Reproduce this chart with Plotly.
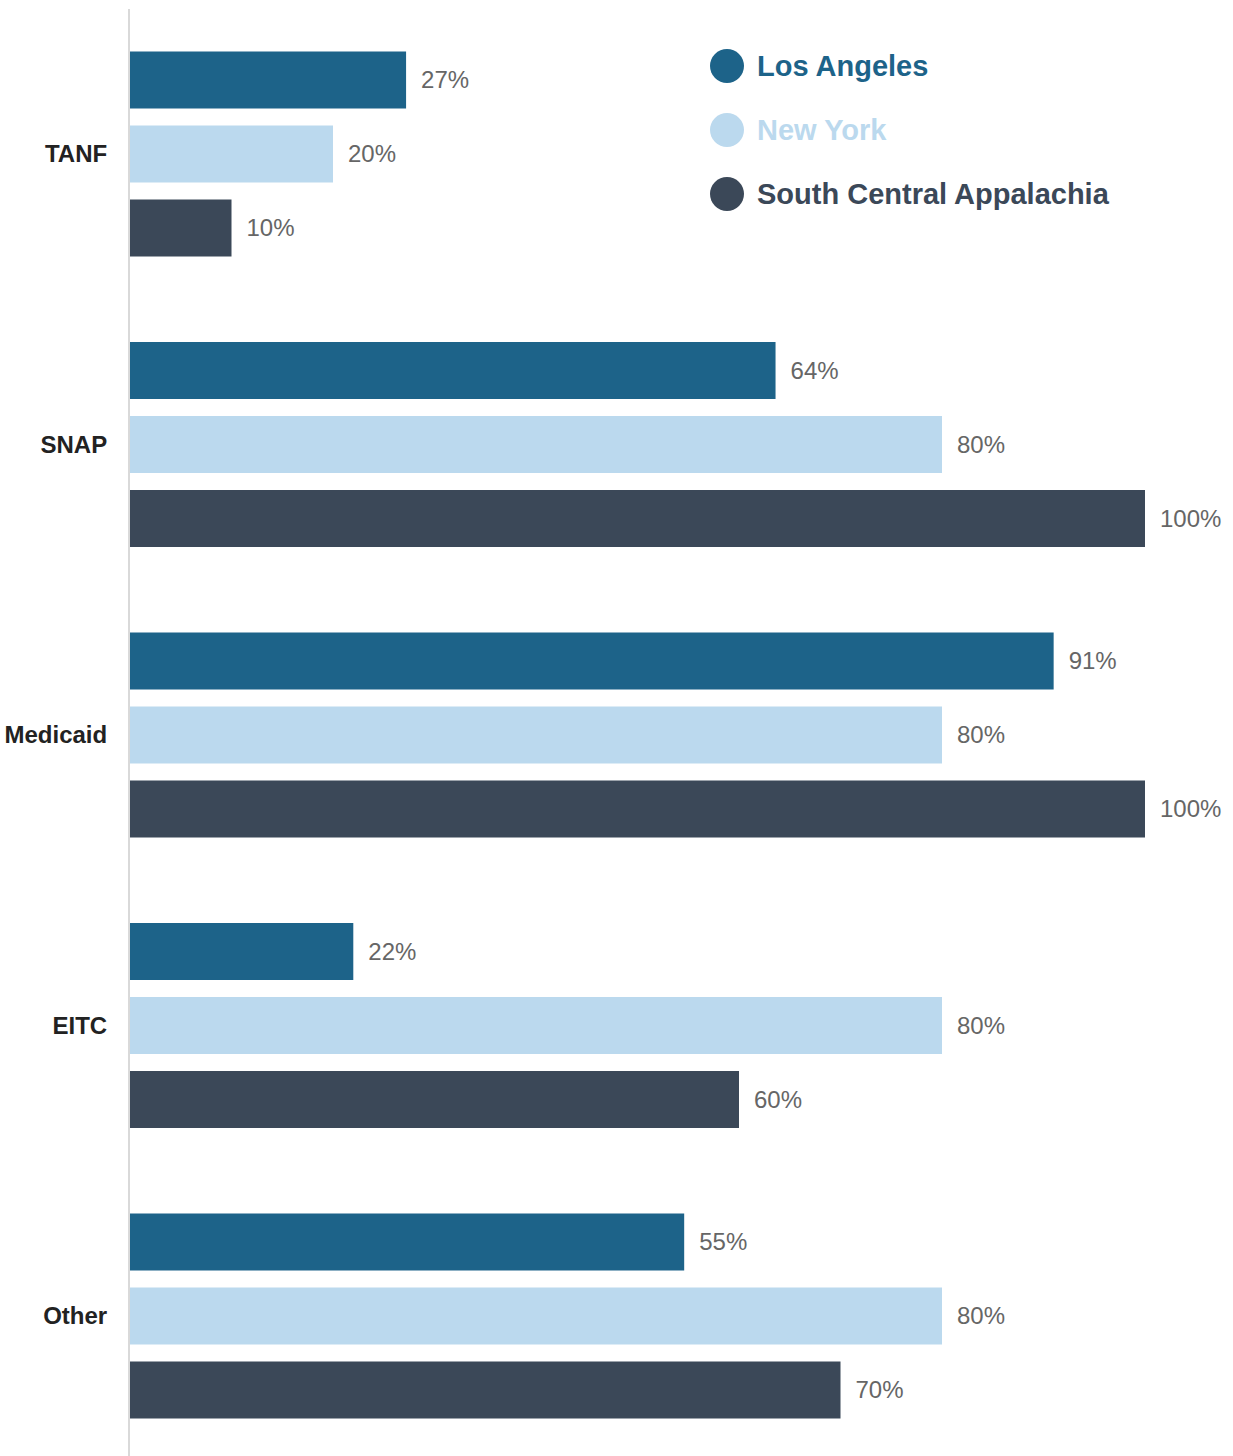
import plotly.graph_objects as go

categories = ["TANF", "SNAP", "Medicaid", "EITC", "Other"]
series_names = ["Los Angeles", "New York", "South Central Appalachia"]
series_colors = ["#1d6389", "#bbd9ee", "#3b4858"]
los_angeles = [27.2, 63.6, 91.0, 22.0, 54.6]
new_york = [20, 80, 80, 80, 80]
south_central_appalachia = [10, 100, 100, 60, 70]
series_values = [los_angeles, new_york, south_central_appalachia]

W, H = 1233, 1456
ML, MT, MR, MB = 130, 9, 0, 0
FONT = "Liberation Sans, Arial, sans-serif"

fig = go.Figure()
for name, color, vals in zip(series_names, series_colors, series_values):
    fig.add_trace(go.Bar(
        y=categories, x=vals, name=name, orientation="h",
        marker=dict(color=color, line=dict(width=0)),
        text=[f"{round(v)}%" for v in vals],
        texttemplate="\u2002%{text}",
        textposition="outside", constraintext="none", cliponaxis=False,
        textfont=dict(family=FONT, size=24, color="#666666"),
        showlegend=False, hoverinfo="skip",
    ))

def px_x(px):
    return (px - ML) / (W - ML - MR)

def px_y(py):
    return (H - MB - py) / (H - MT - MB)

shapes = []
annotations = []
for i, (name, color) in enumerate(zip(series_names, series_colors)):
    cy = 66 + 64 * i
    shapes.append(dict(type="circle", xref="paper", yref="paper",
                       xsizemode="pixel", ysizemode="pixel",
                       xanchor=px_x(727), yanchor=px_y(cy),
                       x0=-17, x1=17, y0=-17, y1=17,
                       fillcolor=color, line=dict(width=0)))
    annotations.append(dict(xref="paper", yref="paper", x=px_x(755), y=px_y(cy),
                            xanchor="left", yanchor="middle", showarrow=False,
                            text=f"<b>{name}</b>",
                            font=dict(family=FONT, size=29, color=color)))

fig.update_layout(
    width=W, height=H,
    margin=dict(l=ML, r=MR, t=MT, b=MB, pad=0, autoexpand=False),
    paper_bgcolor="white", plot_bgcolor="white",
    barmode="group", bargap=0.2358, bargroupgap=0.23,
    font=dict(family=FONT),
    shapes=shapes, annotations=annotations,
    xaxis=dict(range=[0, (W - ML - MR) / 10.15], showgrid=False, zeroline=False,
               showticklabels=False, showline=False, ticks="", automargin=False),
    yaxis=dict(type="category", categoryorder="array", categoryarray=categories,
               range=[4.482, -0.499], showgrid=False, zeroline=False,
               showline=True, linecolor="#d9d9d9", linewidth=2, ticks="",
               ticklabelstandoff=16, automargin=False,
               tickfont=dict(family=FONT, size=24, color="#222222"),
               tickvals=categories,
               ticktext=[f"<b>{c}</b>" for c in categories]),
)

fig.write_html(
    "out.html",
    config={"displayModeBar": False},
    post_script="document.body.style.margin='0';document.body.style.overflow='hidden';",
)
